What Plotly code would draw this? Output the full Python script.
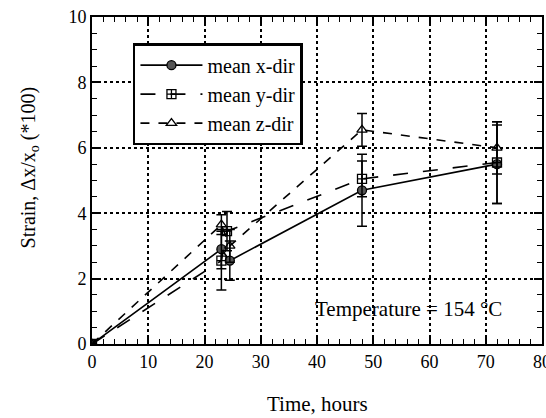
import plotly.graph_objects as go

# Data
t_x = [0, 23, 24.5, 48, 72]
strain_x = [0, 2.9, 2.55, 4.7, 5.5]
err_x = [0, 0.6, 0.6, 1.1, 1.2]

t_y = [0, 23, 24, 48, 72]
strain_y = [0, 2.55, 3.45, 5.05, 5.55]
err_y = [0, 0.9, 0.6, 0.55, 1.25]

t_z = [0, 23, 24.5, 48, 72]
strain_z = [0, 3.65, 3.0, 6.55, 6.0]
err_z = [0, 0.3, 0.5, 0.5, 0.8]

series_names = ["mean x-dir", "mean y-dir", "mean z-dir"]

FONT = "Liberation Serif"

fig = go.Figure()

def add(t, s, e, name, dash, symbol, mcolor, msize):
    fig.add_trace(go.Scatter(
        x=t, y=s, name=name, mode="lines+markers",
        line=dict(color="black", width=1.6, dash=dash),
        marker=dict(symbol=symbol, size=msize, color=mcolor,
                    line=dict(color="black", width=1.3)),
        error_y=dict(type="data", array=e, visible=True, color="black",
                     thickness=1.5, width=5),
    ))

add(t_x, strain_x, err_x, series_names[0], "solid", "circle", "#555555", 9)
add(t_y, strain_y, err_y, series_names[1], "longdash", "square-cross-open", "black", 9)
add(t_z, strain_z, err_z, series_names[2], "dash", "triangle-up-open", "black", 9)

axis_common = dict(
    showline=True, linecolor="black", linewidth=2, mirror="allticks",
    ticks="inside", ticklen=8, tickwidth=1.5, tickcolor="black",
    showgrid=True, gridcolor="black", griddash="dot", gridwidth=1.5,
    zeroline=False, automargin=False, ticklabeloverflow="allow",
    tickfont=dict(family=FONT, size=18, color="black"),
)

fig.update_xaxes(range=[0, 80], dtick=10, **axis_common,
                 minor=dict(dtick=2, ticks="inside", ticklen=5,
                            tickcolor="black", tickwidth=1.2, showgrid=False))
fig.update_yaxes(range=[0, 10], dtick=2, **axis_common,
                 minor=dict(dtick=0.5, ticks="inside", ticklen=5,
                            tickcolor="black", tickwidth=1.2, showgrid=False))

# axis titles
fig.add_annotation(x=0.5, y=-0.185, xref="paper", yref="paper",
                   xanchor="center", yanchor="middle",
                   text="Time, hours", showarrow=False,
                   font=dict(family=FONT, size=21, color="black"))
fig.add_annotation(x=-0.14, y=0.54, xref="paper", yref="paper",
                   xanchor="center", yanchor="middle", textangle=-90,
                   text="Strain, Δx/x<sub>o</sub> (*100)", showarrow=False,
                   font=dict(family=FONT, size=20, color="black"))

fig.add_annotation(x=56.2, y=1.07, xref="x", yref="y",
                   text="Temperature = 154 °C", showarrow=False,
                   font=dict(family=FONT, size=21, color="black"))

fig.update_layout(
    width=546, height=418,
    margin=dict(l=92, r=4, t=17, b=74),
    paper_bgcolor="white", plot_bgcolor="white",
    font=dict(family=FONT, color="black"),
    legend=dict(x=0.091, y=0.92, xanchor="left", yanchor="top",
                bgcolor="white", bordercolor="black", borderwidth=2.5,
                font=dict(family=FONT, size=20, color="black"),
                itemwidth=62, tracegroupgap=2),
    showlegend=True,
)

fig.write_html("out.html", config={"displayModeBar": False},
               post_script="document.body.style.margin='0';")
